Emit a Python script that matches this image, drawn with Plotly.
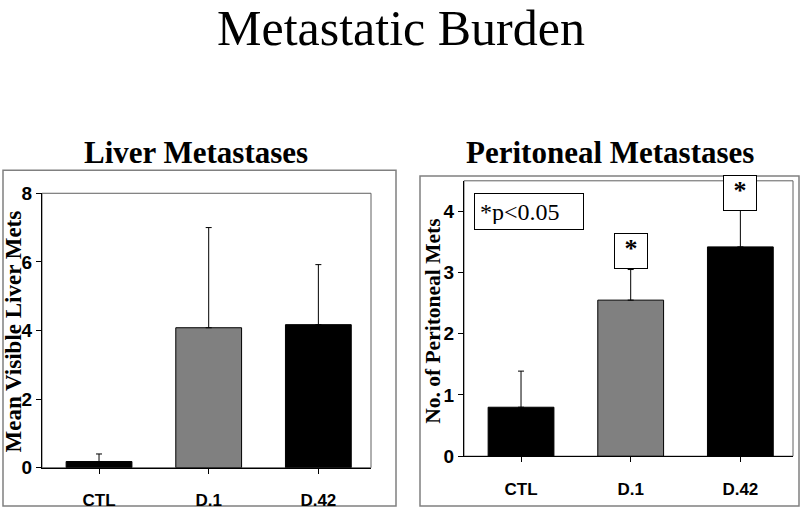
import plotly.graph_objects as go

# ---- data ----
categories = ["CTL", "D.1", "D.42"]
liver_means = [0.18, 4.08, 4.17]
liver_err = [0.22, 2.92, 1.75]
perit_means = [0.80, 2.55, 3.42]
perit_err = [0.59, 0.50, 0.65]
bar_colors = ["#000000", "#808080", "#000000"]
liver_ticks = [0, 2, 4, 6, 8]
perit_ticks = [0, 1, 2, 3, 4]
sig_label = "*p<0.05"
sig_cats = ["D.1", "D.42"]

W, H = 800, 519
def px(x):
    return x / W
def py(y):
    return (H - y) / H

SERIF = "Liberation Serif, Times New Roman, serif"
SANS = "Liberation Sans, Arial, sans-serif"

fig = go.Figure()

fig.add_trace(go.Bar(
    x=categories, y=liver_means, xaxis="x", yaxis="y",
    marker=dict(color=bar_colors, line=dict(color="black", width=1)),
    width=0.6,
    error_y=dict(type="data", symmetric=False, array=liver_err,
                 arrayminus=[0] * len(liver_err), color="black",
                 thickness=1, width=3),
    showlegend=False, hoverinfo="skip",
))
fig.add_trace(go.Bar(
    x=categories, y=perit_means, xaxis="x2", yaxis="y2",
    marker=dict(color=bar_colors, line=dict(color="black", width=1)),
    width=0.6,
    error_y=dict(type="data", symmetric=False, array=perit_err,
                 arrayminus=[0] * len(perit_err), color="black",
                 thickness=1, width=3),
    showlegend=False, hoverinfo="skip",
))

tickfont_y = dict(family=SANS, size=19, color="black", weight="bold")
tickfont_x = dict(family=SANS, size=17, color="black", weight="bold")

axis_common = dict(showgrid=False, zeroline=False, showline=True,
                   linecolor="black", linewidth=1, ticks="outside",
                   ticklen=5, tickcolor="black")

fig.update_layout(
    width=W, height=H,
    margin=dict(l=0, r=0, t=0, b=0),
    paper_bgcolor="white", plot_bgcolor="white",
    bargap=0.4,
    xaxis=dict(domain=[px(42), px(371)], anchor="y", range=[-0.52, 2.48],
               tickfont=tickfont_x, ticklabelstandoff=12, **axis_common),
    yaxis=dict(domain=[py(477), py(191)], anchor="x", range=[0, 8],
               tickvals=liver_ticks, tickfont=tickfont_y, **axis_common),
    xaxis2=dict(domain=[px(464), px(793)], anchor="y2", range=[-0.52, 2.48],
                tickfont=tickfont_x, ticklabelstandoff=12, **axis_common),
    yaxis2=dict(domain=[py(465), py(178)], anchor="x2", range=[0, 4.5],
                tickvals=perit_ticks, tickfont=tickfont_y, **axis_common),
)

shapes = []
# outer panel boxes
shapes.append(dict(type="rect", xref="paper", yref="paper",
                   x0=px(3), x1=px(396), y0=py(517), y1=py(167),
                   line=dict(color="#808080", width=1.5), layer="below"))
shapes.append(dict(type="rect", xref="paper", yref="paper",
                   x0=px(420), x1=px(799), y0=py(517), y1=py(173),
                   line=dict(color="#808080", width=1.5), layer="below"))
# plot-area frames (top/right grey)
shapes.append(dict(type="rect", xref="paper", yref="paper",
                   x0=px(42), x1=px(371), y0=py(477), y1=py(191),
                   line=dict(color="#606060", width=1), layer="below"))
shapes.append(dict(type="rect", xref="paper", yref="paper",
                   x0=px(464), x1=px(793), y0=py(465), y1=py(178),
                   line=dict(color="#606060", width=1), layer="below"))
fig.update_layout(shapes=shapes)

ann = []
ann.append(dict(text="Metastatic Burden", xref="paper", yref="paper",
                x=px(401), y=1, xanchor="center", yanchor="top", yshift=12,
                showarrow=False, font=dict(family=SERIF, size=50, color="black")))
ann.append(dict(text="<b>Liver Metastases</b>", xref="paper", yref="paper",
                x=px(196), y=py(148), xanchor="center", yanchor="middle",
                showarrow=False, font=dict(family=SERIF, size=31, color="black")))
ann.append(dict(text="<b>Peritoneal Metastases</b>", xref="paper", yref="paper",
                x=px(610), y=py(148), xanchor="center", yanchor="middle",
                showarrow=False, font=dict(family=SERIF, size=31, color="black")))
ann.append(dict(text="<b>Mean Visible Liver Mets</b>", xref="paper", yref="paper",
                x=px(13), y=py(335), xanchor="center", yanchor="middle",
                textangle=-90, showarrow=False,
                font=dict(family=SERIF, size=23, color="black")))
ann.append(dict(text="<b>No. of Peritoneal Mets</b>", xref="paper", yref="paper",
                x=px(433), y=py(325), xanchor="center", yanchor="middle",
                textangle=-90, showarrow=False,
                font=dict(family=SERIF, size=21.5, color="black")))
# significance legend box
ann.append(dict(text=sig_label, xref="paper", yref="paper",
                x=px(474), y=py(191), xanchor="left", yanchor="top",
                width=98, height=25, align="left", valign="middle",
                bordercolor="black", borderwidth=1, borderpad=5,
                bgcolor="white", showarrow=False,
                font=dict(family=SERIF, size=24, color="black")))
# star boxes above significant bars
for c in sig_cats:
    i = categories.index(c)
    top = perit_means[i] + perit_err[i]
    ann.append(dict(text="<b>*</b>", xref="x2", yref="y2",
                    x=c, y=min(top, 4.0) + 0.01, xanchor="center", yanchor="bottom",
                    width=32, height=34, valign="top", align="center",
                    bordercolor="black", borderwidth=1, borderpad=0,
                    bgcolor="white", showarrow=False,
                    font=dict(family=SERIF, size=26, color="black")))
fig.update_layout(annotations=ann)

fig.write_html("out.html", config={"displayModeBar": False},
               post_script="document.body.style.margin='0px';")
